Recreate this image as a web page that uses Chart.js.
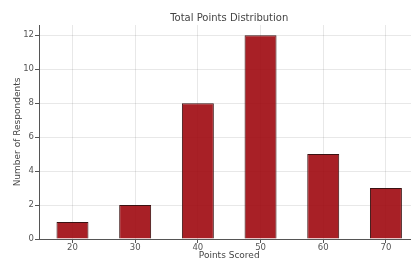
<!DOCTYPE html>
<html>
<head>
<meta charset="utf-8">
<script src="https://cdn.jsdelivr.net/npm/chart.js@4"></script>
<style>
  html, body { margin: 0; padding: 0; background: #fff; }
  #wrap { width: 411px; height: 260px; }
</style>
</head>
<body>
<div id="wrap"><canvas id="chart" width="411" height="260"></canvas></div>
<script>
const pointsScored = [20, 30, 40, 50, 60, 70];
const respondents = [1, 2, 8, 12, 5, 3];
const yTicks = [0, 2, 4, 6, 8, 10, 12];

const chartTitle = "Total Points Distribution";
const xTitle = "Points Scored";
const yTitle = "Number of Respondents";

const FONT = "'DejaVu Sans', sans-serif";

// titles are centred on the middle category, like the original axes
const titlesPlugin = {
  id: "titles",
  afterDraw(chart) {
    const { ctx, chartArea, scales } = chart;
    const mid = (pointsScored[0] + pointsScored[pointsScored.length - 1]) / 2;
    const cx = scales.x.getPixelForValue(mid);
    ctx.save();
    ctx.fillStyle = "#444";
    ctx.textAlign = "center";
    ctx.textBaseline = "middle";
    ctx.font = "10px " + FONT;
    ctx.fillText(chartTitle, cx, chartArea.top - 7);
    ctx.font = "9px " + FONT;
    ctx.fillText(xTitle, cx, chartArea.bottom + 17);
    ctx.restore();
  },
};

new Chart(document.getElementById("chart").getContext("2d"), {
  type: "bar",
  data: {
    datasets: [
      {
        data: pointsScored.map((p, i) => ({ x: p, y: respondents[i] })),
        backgroundColor: "rgba(158, 8, 14, 0.9)",
        borderColor: "#3a1212",
        borderWidth: 1,
        barPercentage: 1,
        categoryPercentage: 0.51,
      },
    ],
  },
  options: {
    responsive: false,
    animation: false,
    layout: { padding: { top: 25, right: 0, left: 0, bottom: 0 } },
    plugins: {
      legend: { display: false },
      tooltip: { enabled: false },
    },
    scales: {
      x: {
        type: "linear",
        min: 14.66,
        max: 74,
        offset: false,
        afterFit: (s) => { s.height = 21; },
        afterBuildTicks: (s) => { s.ticks = pointsScored.map((v) => ({ value: v })); },
        ticks: {
          font: { family: FONT, size: 8.5 },
          color: "#555",
          padding: 0,
          maxRotation: 0,
        },
        grid: {
          color: "rgba(0,0,0,0.09)",
          tickColor: "#555",
          tickLength: 4,
          offset: false,
        },
        border: { color: "#555", width: 1 },
      },
      y: {
        min: 0,
        max: 12.6,
        afterFit: (s) => { s.width = 39; },
        afterBuildTicks: (s) => { s.ticks = yTicks.map((v) => ({ value: v })); },
        ticks: {
          font: { family: FONT, size: 8.5 },
          color: "#555",
          padding: 1,
        },
        grid: {
          color: "rgba(0,0,0,0.09)",
          tickColor: "#555",
          tickLength: 4,
        },
        border: { color: "#555", width: 1 },
        title: {
          display: true,
          text: yTitle,
          color: "#444",
          font: { family: FONT, size: 9 },
          padding: { top: 12, bottom: 0 },
        },
      },
    },
  },
  plugins: [titlesPlugin],
});
</script>
</body>
</html>
